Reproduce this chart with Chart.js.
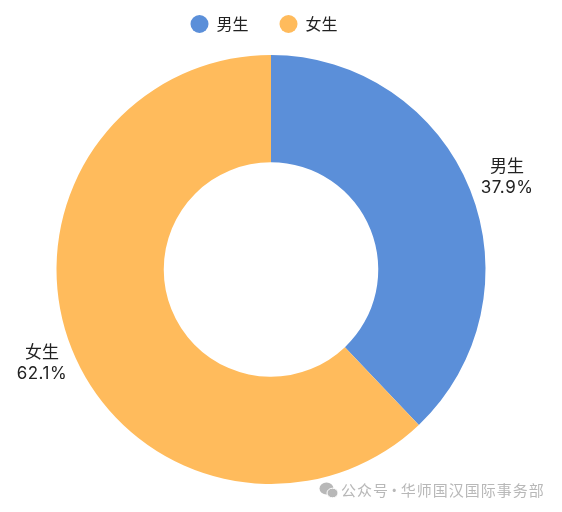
<!DOCTYPE html>
<html>
<head>
<meta charset="utf-8">
<style>
html, body { margin: 0; padding: 0; background: #fff; }
canvas { display: block; }
</style>
<script src="https://cdn.jsdelivr.net/npm/chart.js@4"></script>
</head>
<body>
<canvas id="mycanvas" width="562" height="512"></canvas>
<script>
var categories = ["男生", "女生"];
var shares = [37.9, 62.1];
var colors = ["#5B8FD9", "#FFBB5C"];
var watermark = "公众号 · 华师国汉国际事务部";
var fontName = "'Noto Sans CJK SC', 'Noto Sans', sans-serif";
var numberFont = "Inter, 'Noto Sans', sans-serif";

// slice labels sit just outside each arc
var sliceLabels = {
	id: "sliceLabels",
	afterDatasetsDraw: function(chart) {
		var ctx = chart.ctx;
		var arcs = chart.getDatasetMeta(0).data;
		ctx.save();
		ctx.fillStyle = "#222";
		ctx.textAlign = "center";
		ctx.textBaseline = "middle";
		for (var i in arcs) {
			var a = arcs[i];
			var mid = (a.startAngle + a.endAngle) / 2;
			var r = a.outerRadius + 36;
			var x = a.x + Math.cos(mid) * r + 3.5;
			var y = a.y + Math.sin(mid) * r;
			ctx.font = "17px " + fontName;
			ctx.letterSpacing = "0px";
			ctx.fillText(categories[i], x, y - 11);
			ctx.font = "17px " + numberFont;
			ctx.letterSpacing = "0.5px";
			ctx.fillText(shares[i] + "%", x, y + 11);
		}
		ctx.restore();
	}
};

// legend is placed by hand: the wide item gap would otherwise push it down
var legendSpot = {
	id: "legendSpot",
	afterLayout: function(chart) {
		var legend = chart.legend;
		legend.top = -15;
		legend.left -= 7;
		legend.right -= 7;
	}
};

// grey account mark, bottom right
var mark = {
	id: "mark",
	afterDraw: function(chart) {
		var ctx = chart.ctx;
		ctx.save();
		ctx.fillStyle = "#b8b8b8";
		ctx.beginPath();
		ctx.ellipse(326.5, 488.5, 7, 6, 0, 0, Math.PI * 2);
		ctx.fill();
		ctx.strokeStyle = "#fff";
		ctx.lineWidth = 1;
		ctx.beginPath();
		ctx.ellipse(332.5, 493, 5.5, 4.8, 0, 0, Math.PI * 2);
		ctx.fill();
		ctx.stroke();
		ctx.font = "15px " + fontName;
		ctx.letterSpacing = "1px";
		ctx.wordSpacing = "-6.5px";
		ctx.textBaseline = "middle";
		ctx.fillText(watermark, 341, 490);
		ctx.restore();
	}
};

var ctx = document.getElementById("mycanvas");
var chart = new Chart(ctx, {
	type: "doughnut",
	data: {
		labels: categories,
		datasets: [{
			data: shares,
			backgroundColor: colors,
			borderWidth: 0
		}]
	},
	options: {
		responsive: false,
		animation: false,
		cutout: "50%",
		layout: {
			padding: { left: 56, right: 76, top: -2, bottom: 28 }
		},
		plugins: {
			tooltip: { enabled: false },
			legend: {
				position: "top",
				labels: {
					usePointStyle: true,
					pointStyle: "circle",
					pointStyleWidth: 18,
					boxHeight: 12.7,
					padding: 31,
					color: "#222",
					font: { size: 16, family: fontName }
				}
			}
		}
	},
	plugins: [legendSpot, sliceLabels, mark]
});
</script>
</body>
</html>
